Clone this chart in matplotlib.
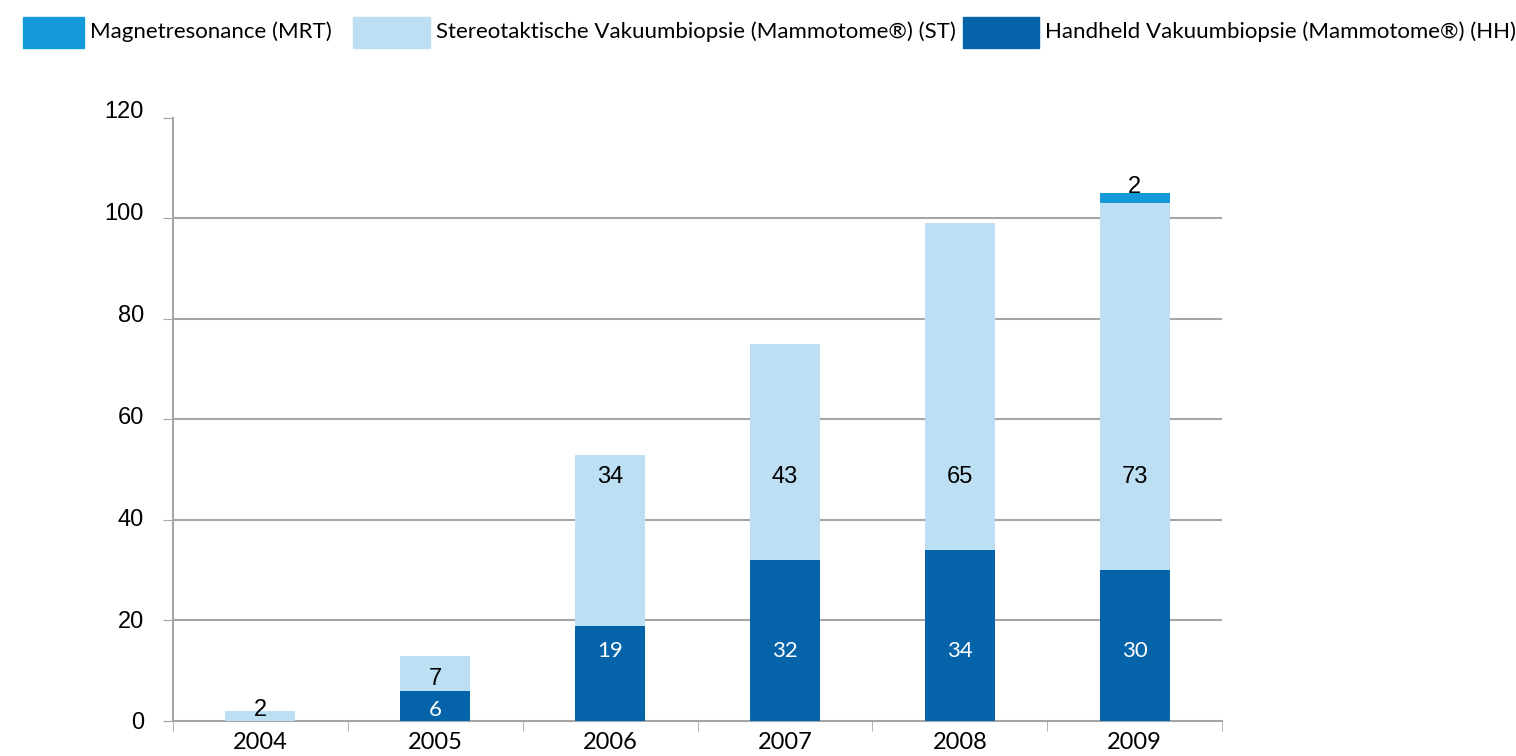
import matplotlib.pyplot as plt
from matplotlib.patches import Rectangle
from matplotlib.transforms import ScaledTranslation
import numpy as np

years = ["2004", "2005", "2006", "2007", "2008", "2009"]
hh = [0, 6, 19, 32, 34, 30]
st = [2, 7, 34, 43, 65, 73]
mrt = [0, 0, 0, 0, 0, 2]

names = [
    "Magnetresonance (MRT)",
    "Stereotaktische Vakuumbiopsie (Mammotome®) (ST)",
    "Handheld Vakuumbiopsie (Mammotome®) (HH)",
]
colors = ["#1499d9", "#bcdff4", "#0563a9"]

y_ticks = [0, 20, 40, 60, 80, 100, 120]

fig = plt.figure(figsize=(15.16, 7.56), dpi=100)
ax = fig.add_axes([0.1141, 0.0463, 0.692, 0.7977])

x = np.arange(len(years))
hh = np.array(hh)
st = np.array(st)
mrt = np.array(mrt)

ax.bar(x, hh, width=0.4, color=colors[2], zorder=3)
ax.bar(x, st, width=0.4, bottom=hh, color=colors[1], zorder=3)
ax.bar(x, mrt, width=0.4, bottom=hh + st, color=colors[0], zorder=3)

# labels
for i in range(len(years)):
    if hh[i] > 0:
        y = 13.9 if hh[i] > 15 else max(0.35 * hh[i], 2.2)
        ax.text(x[i], y, str(hh[i]), ha="center", va="center",
                color="white", fontsize=16, family="Lato", zorder=4)
    if st[i] > 0:
        y = 48.6 if st[i] > 15 else max(hh[i] + 0.35 * st[i], 2.2)
        ax.text(x[i], y, str(st[i]), ha="center", va="center",
                color="black", fontsize=17, family="Liberation Sans", zorder=4)
    if mrt[i] > 0:
        ax.text(x[i], hh[i] + st[i] + mrt[i] - 1.0, str(mrt[i]), ha="center",
                va="bottom", color="black", fontsize=17,
                family="Liberation Sans", zorder=4)

ax.set_xlim(-0.5, len(years) - 0.5)
ax.set_ylim(0, 120)
ax.set_yticks(y_ticks)
ax.set_yticklabels([str(v) for v in y_ticks], family="Liberation Sans",
                   fontsize=17)
ax.set_xticks(x)
ax.set_xticklabels(years, family="Lato", fontsize=17)
ax.set_xticks(np.arange(len(years) + 1) - 0.5, minor=True)

ax.tick_params(axis="x", which="major", length=0, pad=8)
ax.tick_params(axis="x", which="minor", length=7, color="#a6a6a6")
ax.tick_params(axis="y", length=7, color="#a6a6a6", pad=14)

# upper y labels sit a little above their ticks in the original
for v, lab in zip(y_ticks, ax.get_yticklabels()):
    lab.set_transform(lab.get_transform() + ScaledTranslation(
        0, 0.08 * v / 120, fig.dpi_scale_trans))

ax.yaxis.grid(True, color="#a6a6a6", linewidth=1.5)
ax.get_ygridlines()[-1].set_visible(False)
ax.get_ygridlines()[0].set_visible(False)

for s in ["top", "right"]:
    ax.spines[s].set_visible(False)
for s in ["left", "bottom"]:
    ax.spines[s].set_color("#a6a6a6")
    ax.spines[s].set_linewidth(1.5)

# legend
patch_x = [23, 353, 963]
patch_w = [61, 77, 76]
W, H = 1516, 756
for px, pw, name, c in zip(patch_x, patch_w, names, colors):
    fig.patches.append(Rectangle((px / W, 1 - 48 / H), pw / W, 31 / H,
                                 transform=fig.transFigure, color=c))
    fig.text((px + pw + 6) / W, 1 - 32 / H, name, ha="left", va="center",
             fontsize=16, family="Lato")

fig.savefig("out.png", dpi=100)
